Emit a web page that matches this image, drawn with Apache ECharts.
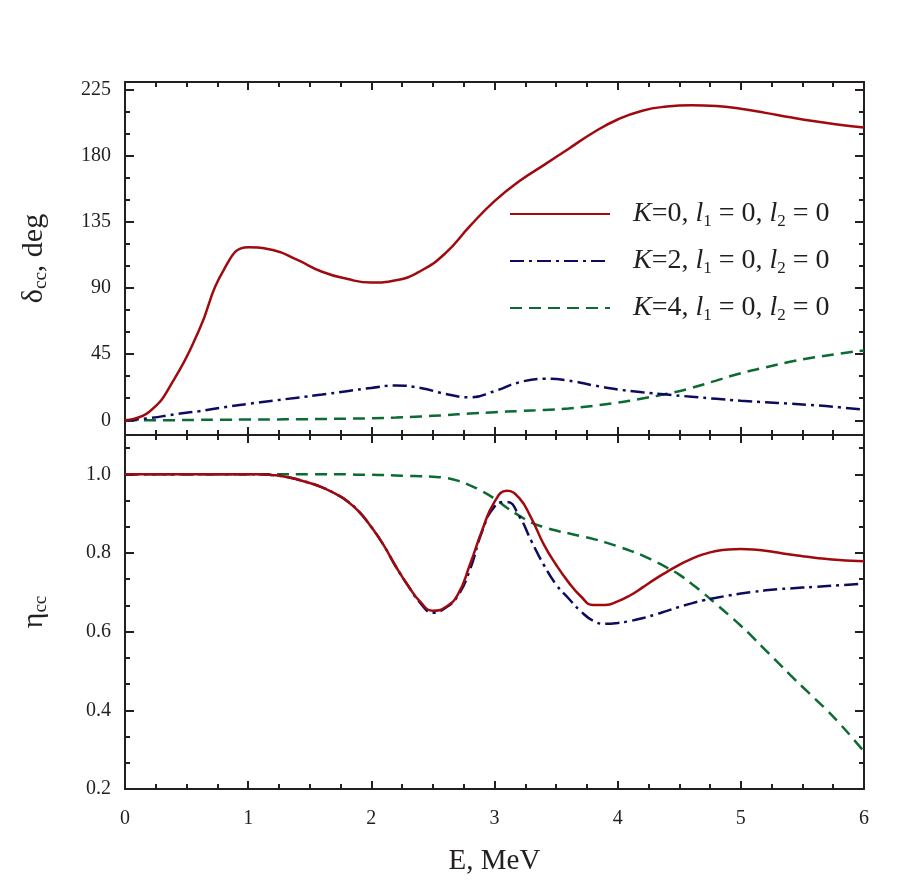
<!DOCTYPE html>
<html>
<head>
<meta charset="utf-8">
<script src="https://cdn.jsdelivr.net/npm/echarts@6/dist/echarts.min.js"></script>
<style>
  html, body { margin: 0; padding: 0; background: #fff; }
  #main { width: 907px; height: 890px; }
</style>
</head>
<body>
<div id="main"></div>
<script>
// energies, MeV
var eTop = [0, 0.2, 0.4, 0.6, 0.8, 1.0, 1.2, 1.4, 1.6, 1.8, 2.0, 2.2, 2.4, 2.6, 2.8, 3.0, 3.2, 3.4, 3.6, 3.8,
  4.0, 4.2, 4.4, 4.6, 4.8, 5.0, 5.2, 5.4, 5.6, 5.8, 6.0];
var eBot = [0, 0.1, 0.2, 0.3, 0.4, 0.5, 0.6, 0.7, 0.8, 0.9, 1.0, 1.1, 1.2, 1.3, 1.4, 1.5, 1.6, 1.7, 1.8, 1.9,
  2.0, 2.1, 2.2, 2.3, 2.4, 2.5, 2.6, 2.7, 2.8, 2.9, 3.0, 3.1, 3.2, 3.3, 3.4, 3.5, 3.6, 3.7, 3.8, 3.9,
  4.0, 4.1, 4.2, 4.3, 4.4, 4.5, 4.6, 4.7, 4.8, 4.9, 5.0, 5.1, 5.2, 5.3, 5.4, 5.5, 5.6, 5.7, 5.8, 5.9, 6.0];

// phase shift delta_cc, deg
var deltaK0 = [0, 6, 28, 61, 102, 117.6, 115.8, 109, 101, 96.2, 93.6, 95.2, 101.5, 113.5, 132, 149, 162.5, 173.5, 184.5, 195.5,
  204.5, 210.5, 213.3, 214.2, 213.7, 211.8, 209, 206, 203.3, 201, 199];
var deltaK2 = [0, 1.5, 4, 6.2, 8.8, 11.2, 13.3, 15.4, 17.5, 19.8, 22, 23.6, 22, 18, 15.6, 19.8, 25.8, 28.2, 27, 23.8,
  21, 19, 17.5, 16, 14.6, 13.3, 12.3, 11.3, 10.2, 8.8, 7.2];
var deltaK4 = [0, 0, 0.1, 0.3, 0.4, 0.5, 0.6, 0.7, 0.9, 1.1, 1.4, 1.9, 2.6, 3.5, 4.6, 5.5, 6.3, 7.0, 8.0, 9.8,
  12, 14.8, 18, 22, 27, 32, 36, 39.8, 42.8, 45.3, 47.5];

// inelasticity eta_cc
var etaK0 = [1, 1, 1, 1, 1, 1, 1, 1, 1, 1, 1, 1, 0.998, 0.994, 0.987, 0.978, 0.967, 0.952, 0.933, 0.905,
  0.866, 0.82, 0.765, 0.716, 0.675, 0.653, 0.662, 0.693, 0.77, 0.858, 0.93, 0.958, 0.94, 0.888, 0.822, 0.77, 0.726, 0.69, 0.668, 0.668,
  0.677, 0.692, 0.712, 0.733, 0.752, 0.77, 0.785, 0.797, 0.805, 0.809, 0.81, 0.809, 0.806, 0.801, 0.796, 0.792, 0.788, 0.785, 0.782, 0.78, 0.779];
var etaK2 = [1, 1, 1, 1, 1, 1, 1, 1, 1, 1, 1, 1, 0.998, 0.994, 0.987, 0.978, 0.967, 0.952, 0.933, 0.905,
  0.866, 0.82, 0.765, 0.716, 0.672, 0.648, 0.66, 0.69, 0.757, 0.855, 0.918, 0.93, 0.894, 0.83, 0.77, 0.72, 0.685, 0.652, 0.628, 0.62,
  0.622, 0.627, 0.634, 0.643, 0.653, 0.663, 0.672, 0.68, 0.686, 0.692, 0.697, 0.701, 0.705, 0.708, 0.71, 0.712, 0.714, 0.716, 0.718, 0.72, 0.723];
var etaK4 = [1, 1, 1, 1, 1, 1, 1, 1, 1, 1, 1, 1, 1, 1, 1, 1, 1, 1, 1, 0.999,
  0.999, 0.998, 0.997, 0.996, 0.995, 0.994, 0.991, 0.984, 0.972, 0.957, 0.938, 0.915, 0.895, 0.877, 0.866, 0.857, 0.85, 0.843, 0.836, 0.827,
  0.817, 0.806, 0.794, 0.779, 0.763, 0.745, 0.722, 0.697, 0.67, 0.643, 0.615, 0.585, 0.553, 0.522, 0.49, 0.46, 0.43, 0.4, 0.367, 0.332, 0.295];

var names = ['K=0', 'K=2', 'K=4'];
var deltaTicks = [0, 45, 90, 135, 180, 225];
var deltaMinor = [15, 30, 60, 75, 105, 120, 150, 165, 195, 210];
var etaTicks = [0.2, 0.4, 0.6, 0.8, 1.0];
var etaMinor = [0.2667, 0.3333, 0.4667, 0.5333, 0.6667, 0.7333, 0.8667, 0.9333, 1.0667];

var FONT = 'Liberation Serif';
var INK = '#231f20';
var colors = ['#a00a0f', '#0d0b5e', '#0b6b32'];
var dashes = ['solid', [14, 5, 3, 5], [12, 7]];

function pairs(xs, ys) {
  var out = [];
  for (var i = 0; i < xs.length; i++) out.push([xs[i], ys[i]]);
  return out;
}

function xAx(grid, pos, showLabel) {
  return {
    type: 'value', gridIndex: grid, position: pos, min: 0, max: 6, interval: 1,
    axisLine: { show: true, onZero: false, lineStyle: { color: INK, width: 2 } },
    axisTick: { show: true, inside: true, length: 8, lineStyle: { color: INK, width: 2 } },
    minorTick: { show: true, splitNumber: 4, length: 5, lineStyle: { color: INK, width: 2 } },
    splitLine: { show: false },
    axisLabel: { show: showLabel, margin: 20, fontFamily: FONT, fontSize: 20, color: INK }
  };
}

function yAx(grid, pos, min, max, ticks, minor, isMinor, showLabel, fmt) {
  return {
    type: 'value', gridIndex: grid, position: pos, min: min, max: max,
    axisLine: { show: !isMinor, onZero: false, lineStyle: { color: INK, width: 2 } },
    axisTick: { show: true, inside: true, length: isMinor ? 5 : 9, customValues: isMinor ? minor : ticks,
      lineStyle: { color: INK, width: 2 } },
    splitLine: { show: false },
    axisLabel: { show: showLabel, customValues: ticks, margin: 14, fontFamily: FONT, fontSize: 20, color: INK,
      formatter: fmt }
  };
}

var chart = echarts.init(document.getElementById('main'));

var yAxes = [
  yAx(0, 'left', -10, 230, deltaTicks, deltaMinor, false, true, function (v) { return String(v); }),
  yAx(0, 'left', -10, 230, deltaTicks, deltaMinor, true, false),
  yAx(0, 'right', -10, 230, deltaTicks, deltaMinor, false, false),
  yAx(0, 'right', -10, 230, deltaTicks, deltaMinor, true, false),
  yAx(1, 'left', 0.2, 1.1, etaTicks, etaMinor, false, true, function (v) { return v.toFixed(1); }),
  yAx(1, 'left', 0.2, 1.1, etaTicks, etaMinor, true, false),
  yAx(1, 'right', 0.2, 1.1, etaTicks, etaMinor, false, false),
  yAx(1, 'right', 0.2, 1.1, etaTicks, etaMinor, true, false)
];
var nameStyle = { color: INK, fontFamily: FONT, fontSize: 30,
  rich: { a: { fontFamily: FONT, fontSize: 30, lineHeight: 34, color: INK },
          b: { fontFamily: FONT, fontSize: 19, lineHeight: 19, verticalAlign: 'bottom', color: INK } } };
yAxes[0].name = '{a|δ}{b|cc}{a|, deg}';
yAxes[0].nameLocation = 'middle';
yAxes[0].nameGap = 74;
yAxes[0].nameTextStyle = nameStyle;
yAxes[4].name = '{a|η}{b|cc}';
yAxes[4].nameLocation = 'middle';
yAxes[4].nameGap = 74;
yAxes[4].nameTextStyle = nameStyle;

var xAxes = [xAx(0, 'bottom', false), xAx(0, 'top', false), xAx(1, 'bottom', true), xAx(1, 'top', false)];
xAxes[2].name = 'E, MeV';
xAxes[2].nameLocation = 'middle';
xAxes[2].nameGap = 58;
xAxes[2].nameTextStyle = { color: INK, fontFamily: FONT, fontSize: 29 };

var topData = [pairs(eTop, deltaK0), pairs(eTop, deltaK2), pairs(eTop, deltaK4)];
var botData = [pairs(eBot, etaK0), pairs(eBot, etaK2), pairs(eBot, etaK4)];

var series = [];
for (var i = 0; i < 3; i++) {
  series.push({
    name: names[i], type: 'line', xAxisIndex: 0, yAxisIndex: 0, data: topData[i],
    symbol: 'none', smooth: 0.5, z: 3 - i,
    lineStyle: { color: colors[i], width: 2.5, type: dashes[i] }, itemStyle: { color: colors[i] }
  });
  series.push({
    name: names[i], type: 'line', xAxisIndex: 2, yAxisIndex: 4, data: botData[i],
    symbol: 'none', smooth: 0.5, z: 3 - i,
    lineStyle: { color: colors[i], width: 2.5, type: dashes[i] }, itemStyle: { color: colors[i] }
  });
}

chart.setOption({
  animation: false,
  backgroundColor: '#fff',
  grid: [
    { left: 125, right: 43, top: 82, height: 353 },
    { left: 125, right: 43, top: 435, height: 354 }
  ],
  legend: {
    data: names, orient: 'vertical', left: 504, top: 195,
    itemWidth: 100, itemHeight: 26, itemGap: 17,
    itemStyle: { opacity: 0 },
    formatter: function (n) {
      return '{g|}{i|K}{t|' + n.slice(1) + ', }{i|l}{s|1}{t| = 0, }{i|l}{s|2}{t| = 0}';
    },
    textStyle: {
      fontFamily: FONT, fontSize: 28, color: INK,
      rich: {
        g: { width: 18 },
        t: { fontFamily: FONT, fontSize: 28, lineHeight: 32, color: INK },
        i: { fontFamily: FONT, fontSize: 28, lineHeight: 32, fontStyle: 'italic', color: INK },
        s: { fontFamily: FONT, fontSize: 17, lineHeight: 17, verticalAlign: 'bottom', color: INK }
      }
    }
  },
  xAxis: xAxes,
  yAxis: yAxes,
  series: series
});
</script>
</body>
</html>
